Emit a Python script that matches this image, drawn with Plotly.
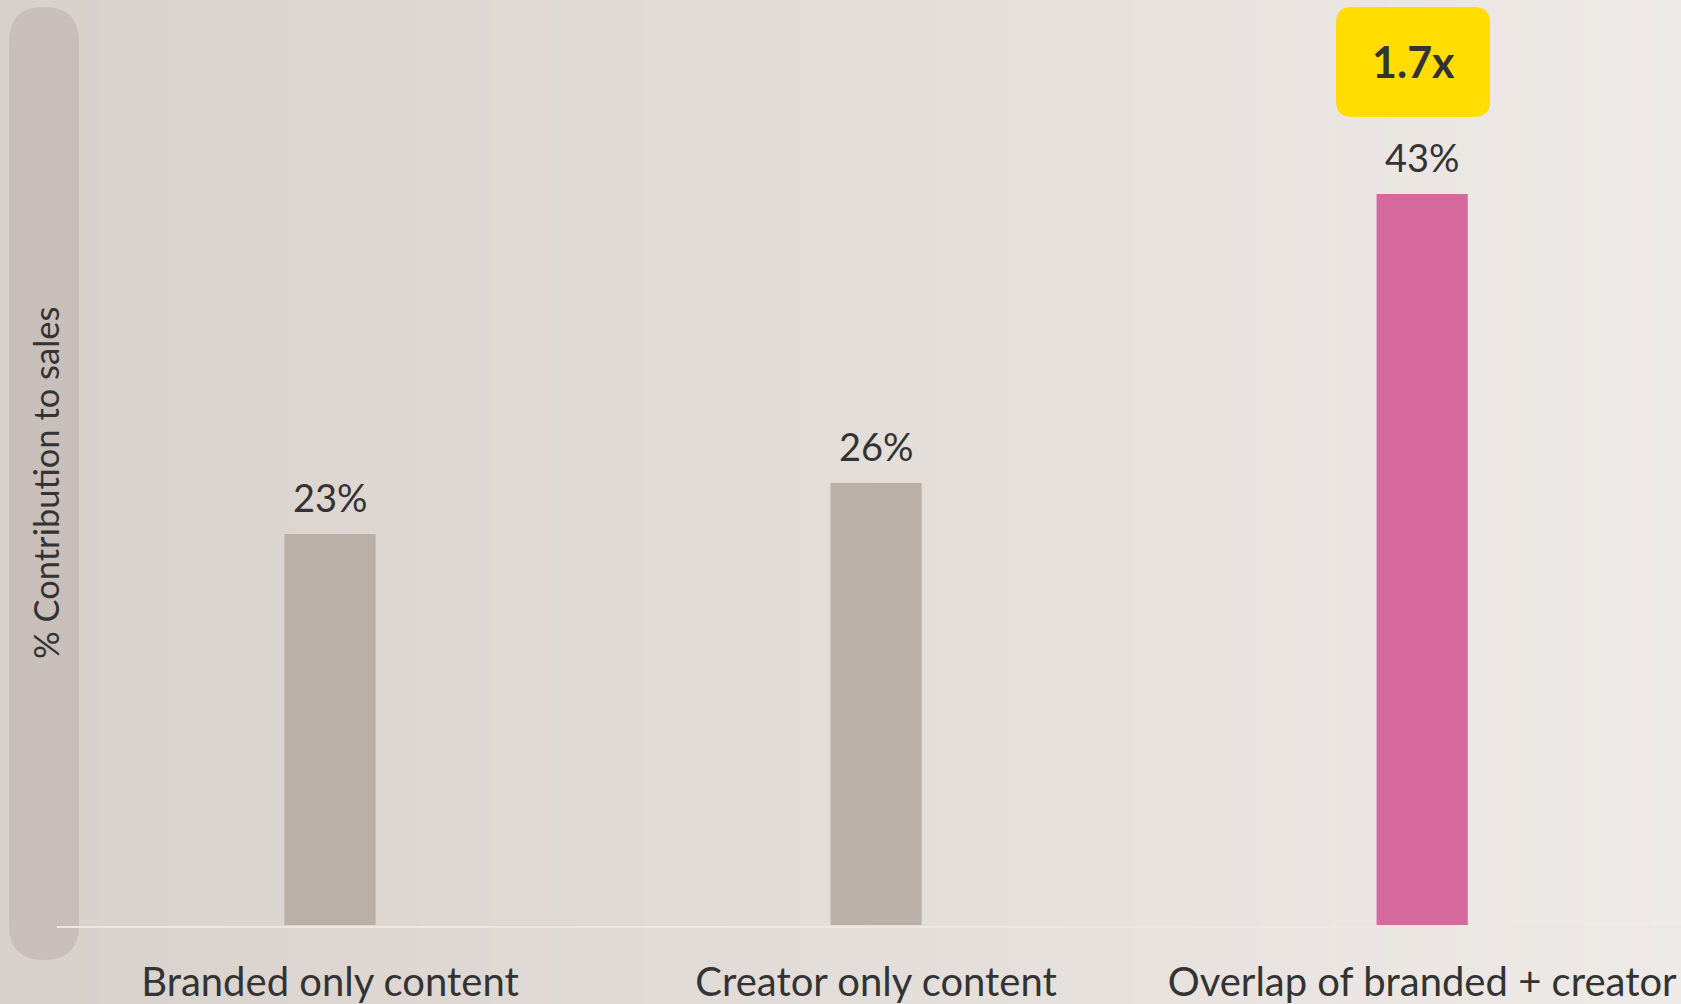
import plotly.graph_objects as go

# Chart data
categories = ["Branded only content", "Creator only content", "Overlap of branded + creator"]
contribution = [23, 26, 43]
bar_colors = ["#bab0a7", "#bab0a7", "#d6699b"]
uplift_label = "1.7x"
uplift_index = 2
y_title = "% Contribution to sales"

# Page geometry (pixels)
W, H = 1681, 1004
ML, MR, MT, MB = 57, 0, 75, 79
PW, PH = W - ML - MR, H - MT - MB
Y_MAX = 50
TEXT = "#333333"
FONT = "Lato, 'Open Sans', sans-serif"


def px_x(px):
    return (px - ML) / PW


def px_y(py):
    return (H - MB - py) / PH


def rounded_rect(x0, y0, x1, y1, r):
    """SVG path (paper coords) for a rounded rectangle given in page pixels."""
    X = px_x
    Y = px_y
    pts = [
        f"M {X(x0 + r)},{Y(y0)}",
        f"L {X(x1 - r)},{Y(y0)}",
        f"Q {X(x1)},{Y(y0)} {X(x1)},{Y(y0 + r)}",
        f"L {X(x1)},{Y(y1 - r)}",
        f"Q {X(x1)},{Y(y1)} {X(x1 - r)},{Y(y1)}",
        f"L {X(x0 + r)},{Y(y1)}",
        f"Q {X(x0)},{Y(y1)} {X(x0)},{Y(y1 - r)}",
        f"L {X(x0)},{Y(y0 + r)}",
        f"Q {X(x0)},{Y(y0)} {X(x0 + r)},{Y(y0)}",
        "Z",
    ]
    return " ".join(pts)


def lerp_color(c0, c1, t):
    return "rgb({},{},{})".format(*[round(a + (b - a) * t) for a, b in zip(c0, c1)])


shapes = []

# Horizontal background gradient, drawn as thin stripes
left_rgb, right_rgb = (216, 208, 203), (238, 234, 231)
n_stripes = 120
for i in range(n_stripes):
    x0 = W * i / n_stripes
    x1 = W * (i + 1) / n_stripes + 1
    shapes.append(dict(
        type="rect", xref="paper", yref="paper", layer="below",
        x0=px_x(x0), x1=px_x(x1), y0=px_y(H), y1=px_y(0),
        fillcolor=lerp_color(left_rgb, right_rgb, (i + 0.5) / n_stripes),
        line=dict(width=0),
    ))

# Pill behind the y-axis title
shapes.append(dict(
    type="path", xref="paper", yref="paper", layer="below",
    path=rounded_rect(9, 7, 79, 960, 35),
    fillcolor="#c8bfba", line=dict(width=0),
))

# Baseline
shapes.append(dict(
    type="line", xref="paper", yref="paper", layer="below",
    x0=0, x1=1, y0=px_y(927), y1=px_y(927),
    line=dict(color="#ebe7e4", width=2),
))

# Highlight badge above the largest bar
shapes.append(dict(
    type="path", xref="paper", yref="paper", layer="above",
    path=rounded_rect(1336, 7, 1490, 117, 16),
    fillcolor="#ffdd00", line=dict(width=0),
))

annotations = []
for cat, v in zip(categories, contribution):
    annotations.append(dict(
        x=cat, y=v, xref="x", yref="y", text=f"{v}%", showarrow=False,
        yanchor="middle", yshift=37,
        font=dict(family=FONT, size=38, color=TEXT),
    ))

annotations.append(dict(
    x=px_x(1413), y=px_y(62), xref="paper", yref="paper",
    text=f"<b>{uplift_label}</b>", showarrow=False,
    xanchor="center", yanchor="middle",
    font=dict(family=FONT, size=43, color=TEXT),
))

annotations.append(dict(
    x=px_x(45), y=px_y(483), xref="paper", yref="paper",
    text=y_title, showarrow=False, textangle=-90,
    xanchor="center", yanchor="middle",
    font=dict(family=FONT, size=34.5, color=TEXT),
))

fig = go.Figure(go.Bar(
    x=categories, y=contribution,
    marker=dict(color=bar_colors, line=dict(width=0)),
    width=0.167, hoverinfo="skip",
))

fig.update_layout(
    width=W, height=H,
    margin=dict(l=ML, r=MR, t=MT, b=MB, pad=0),
    paper_bgcolor="#e3ddd9", plot_bgcolor="rgba(0,0,0,0)",
    showlegend=False,
    shapes=shapes, annotations=annotations,
    xaxis=dict(
        type="category", range=[-0.5, 2.474],
        showgrid=False, zeroline=False, showline=False, ticks="",
        ticklabelstandoff=30,
        tickfont=dict(family=FONT, size=40, color=TEXT),
        fixedrange=True,
    ),
    yaxis=dict(
        range=[0, Y_MAX], showgrid=False, zeroline=False, showline=False,
        showticklabels=False, ticks="", fixedrange=True,
    ),
)

fig.write_html("out.html")
